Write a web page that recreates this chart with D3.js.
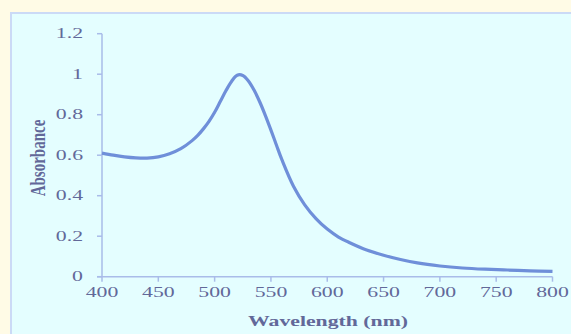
<!DOCTYPE html>
<html>
<head>
<meta charset="utf-8">
<script src="https://cdn.jsdelivr.net/npm/d3@7"></script>
<style>
  html, body { margin: 0; padding: 0; background: #fffbe6; overflow: hidden; }
  svg { display: block; }
</style>
</head>
<body>
<svg id="chart"></svg>
<script>
const width = 571;
const height = 334;

// spectrum
const wavelengths = [400, 410, 420, 430, 440, 450, 460, 470, 480, 485, 490, 495, 500, 505, 510, 515, 520, 525,
  530, 535, 540, 545, 550, 555, 560, 570, 580, 590, 600, 610, 620, 635, 650, 665, 680, 700, 720, 740, 760, 780, 800];
const absorbance = [0.61, 0.60, 0.592, 0.587, 0.586, 0.592, 0.607, 0.632, 0.672, 0.698, 0.73, 0.767, 0.812, 0.865, 0.918, 0.964, 0.995, 0.994,
  0.967, 0.922, 0.864, 0.797, 0.724, 0.648, 0.574, 0.447, 0.355, 0.287, 0.235, 0.196, 0.168, 0.132, 0.106, 0.085, 0.068, 0.053, 0.043, 0.037, 0.033, 0.029, 0.026];
const xTicks = [400, 450, 500, 550, 600, 650, 700, 750, 800];
const yTicks = [0, 0.2, 0.4, 0.6, 0.8, 1, 1.2];

const svg = d3.select('#chart').attr('width', width).attr('height', height);

// panel
svg.append('rect')
    .attr('x', 11).attr('y', 13)
    .attr('width', width).attr('height', height)
    .style('fill', '#e4feff')
    .style('stroke', '#cbdaf6')
    .style('stroke-width', 2);

const x = d3.scaleLinear().domain([400, 800]).range([102, 552.5]);
const y = d3.scaleLinear().domain([0, 1.2]).range([276.7, 33.7]);

const axisColor = '#a9bce9';
const labelColor = '#626899';
const font = '"Liberation Serif", "Times New Roman", serif';

// y axis
svg.append('line')
    .attr('x1', x(400)).attr('x2', x(400))
    .attr('y1', y(1.2)).attr('y2', y(0))
    .style('stroke', axisColor).style('stroke-width', 1.5);
svg.selectAll('.ytick')
    .data(yTicks).enter().append('line')
    .attr('class', 'ytick')
    .attr('x1', x(400) - 5).attr('x2', x(400))
    .attr('y1', d => y(d)).attr('y2', d => y(d))
    .style('stroke', axisColor).style('stroke-width', 1.5);
svg.selectAll('.ylabel')
    .data(yTicks).enter().append('text')
    .attr('class', 'ylabel')
    .attr('transform', d => 'translate(83,' + (y(d) + 4.5) + ') scale(1.45,1)')
    .attr('text-anchor', 'end')
    .style('font-family', font)
    .style('font-size', '15px')
    .style('fill', labelColor)
    .text(d => d);

// x axis
svg.append('line')
    .attr('x1', x(400) - 5).attr('x2', x(800))
    .attr('y1', y(0)).attr('y2', y(0))
    .style('stroke', axisColor).style('stroke-width', 1.5);
svg.selectAll('.xtick')
    .data(xTicks).enter().append('line')
    .attr('class', 'xtick')
    .attr('x1', d => x(d)).attr('x2', d => x(d))
    .attr('y1', y(0)).attr('y2', y(0) + 5)
    .style('stroke', axisColor).style('stroke-width', 1.5);
svg.selectAll('.xlabel')
    .data(xTicks).enter().append('text')
    .attr('class', 'xlabel')
    .attr('transform', d => 'translate(' + x(d) + ',297) scale(1.45,1)')
    .attr('text-anchor', 'middle')
    .style('font-family', font)
    .style('font-size', '15px')
    .style('fill', labelColor)
    .text(d => d);

// titles
svg.append('text')
    .attr('transform', 'translate(328,326) scale(1.45,1)')
    .attr('text-anchor', 'middle')
    .style('font-family', font)
    .style('font-size', '15px')
    .style('font-weight', 'bold')
    .style('fill', labelColor)
    .text('Wavelength (nm)');
svg.append('text')
    .attr('transform', 'translate(45,158) scale(1.45,1) rotate(-90)')
    .attr('text-anchor', 'middle')
    .style('font-family', font)
    .style('font-size', '15px')
    .style('font-weight', 'bold')
    .style('fill', labelColor)
    .text('Absorbance');

// curve
const points = wavelengths.map((w, i) => [w, absorbance[i]]);
const line = d3.line()
    .x(d => x(d[0]))
    .y(d => y(d[1]))
    .curve(d3.curveCatmullRom.alpha(0.5));
svg.append('path')
    .datum(points)
    .attr('d', line)
    .style('fill', 'none')
    .style('stroke', '#6f8fd9')
    .style('stroke-width', 3.2)
    .style('stroke-linejoin', 'round');
</script>
</body>
</html>
